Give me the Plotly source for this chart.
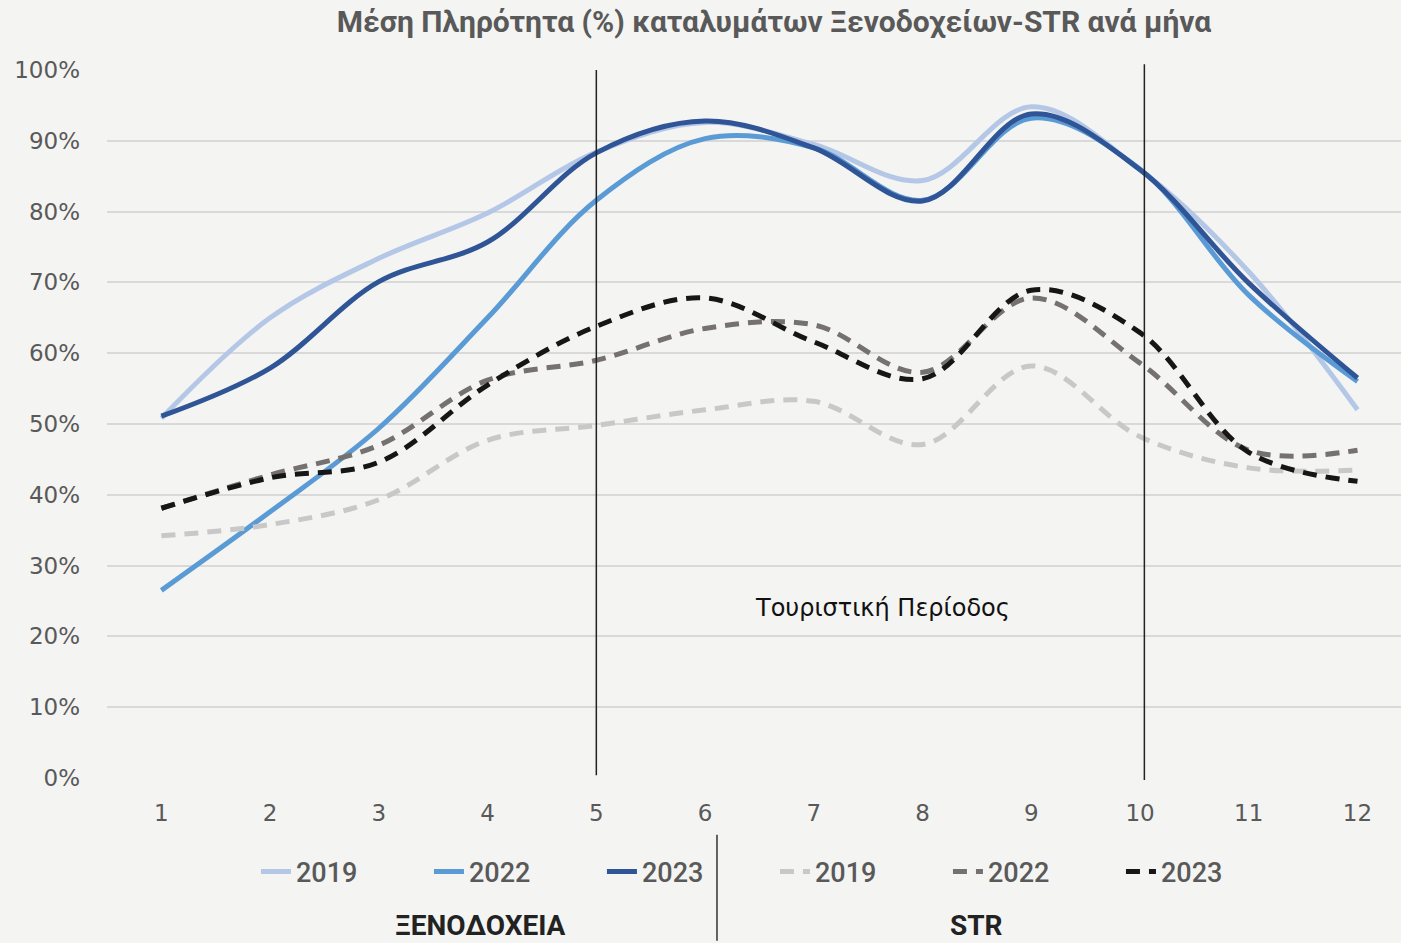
import plotly.graph_objects as go

months = [1, 2, 3, 4, 5, 6, 7, 8, 9, 10, 11, 12]
month_labels = [str(m) for m in months]

hotels_2019 = [50.8, 65.0, 73.4, 79.8, 88.4, 92.6, 89.5, 84.4, 94.8, 85.9, 71.5, 52.0]
hotels_2022 = [26.5, 37.6, 49.4, 65.0, 81.6, 90.3, 89.0, 81.6, 93.2, 86.0, 68.2, 56.0]
hotels_2023 = [51.1, 57.9, 70.1, 75.7, 88.3, 92.8, 89.0, 81.5, 93.8, 85.9, 69.9, 56.5]

str_2019 = [34.2, 35.8, 39.3, 47.7, 49.8, 52.0, 53.2, 47.1, 58.2, 48.2, 43.8, 43.5]
str_2022 = [38.1, 42.8, 47.0, 56.2, 59.0, 63.5, 64.0, 57.3, 67.8, 58.6, 46.3, 46.3]
str_2023 = [38.1, 42.4, 44.6, 55.5, 63.8, 67.8, 61.6, 56.4, 68.9, 62.9, 46.0, 41.9]

series = [
    ("2019", hotels_2019, "#b4c7e7", "solid"),
    ("2022", hotels_2022, "#5b9bd5", "solid"),
    ("2023", hotels_2023, "#2f5597", "solid"),
    ("2019", str_2019, "#c8c8c8", "14px,9px"),
    ("2022", str_2022, "#767171", "14px,9px"),
    ("2023", str_2023, "#161616", "14px,9px"),
]

fig = go.Figure()
for name, vals, color, dash in series:
    fig.add_trace(go.Scatter(
        x=months, y=vals, name=name, mode="lines",
        line=dict(color=color, width=5, dash=dash, shape="spline", smoothing=1.0),
    ))

bg = "#f4f4f2"
txt = "#595959"

fig.update_layout(
    width=1401, height=943,
    paper_bgcolor=bg, plot_bgcolor=bg,
    margin=dict(l=107, r=0, t=70, b=165),
    title=dict(
        text="<b>Μέση Πληρότητα (%) καταλυμάτων Ξενοδοχείων-STR ανά μήνα</b>",
        x=0.5525, xref="container", xanchor="center",
        y=0.977, yref="container", yanchor="middle",
        font=dict(family="Roboto, sans-serif", size=30, color=txt),
    ),
    xaxis=dict(
        range=[0.5, 12.4], tickmode="array", tickvals=months, ticktext=month_labels,
        showgrid=False, zeroline=False, showline=False, ticks="",
        tickfont=dict(family="DejaVu Sans, sans-serif", size=23, color=txt),
        ticklabelstandoff=19,
    ),
    yaxis=dict(
        range=[0, 100], dtick=10, ticksuffix="%",
        showgrid=True, gridcolor="#d9d9d9", gridwidth=2, zeroline=False, showline=False,
        tickfont=dict(family="DejaVu Sans, sans-serif", size=23, color=txt),
        ticklabelstandoff=26,
    ),
    legend=dict(
        orientation="h", xref="container", x=0.1827, xanchor="left",
        yref="container", y=0.0753, yanchor="middle",
        bgcolor="rgba(0,0,0,0)", entrywidth=128, entrywidthmode="pixels",
        font=dict(family="Roboto, sans-serif", size=27, color=txt, weight=500),
        tracegroupgap=0,
    ),
    showlegend=True,
)

# tourist season boundaries
fig.add_shape(type="line", xref="x", yref="paper", x0=5, x1=5, y0=0.004, y1=1.0,
              line=dict(color="#222222", width=1.5))
fig.add_shape(type="line", xref="x", yref="paper", x0=10.04, x1=10.04, y0=-0.003, y1=1.008,
              line=dict(color="#222222", width=1.5))

fig.add_annotation(x=7.63, y=24, xref="x", yref="y", text="Τουριστική Περίοδος",
                   showarrow=False, xanchor="center",
                   font=dict(family="DejaVu Sans, sans-serif", size=24, color="#111111"))

# legend group separators and labels
fig.add_shape(type="line", xref="paper", yref="paper", x0=0.4714, x1=0.4714, y0=-0.08, y1=-0.23,
              line=dict(color="#333333", width=1.5))
fig.add_annotation(x=0.2883, y=-0.208, xref="paper", yref="paper", text="<b>ΞΕΝΟΔΟΧΕΙΑ</b>",
                   showarrow=False, xanchor="center", yanchor="middle",
                   font=dict(family="Roboto, sans-serif", size=28, color="#222222"))
fig.add_annotation(x=0.6723, y=-0.208, xref="paper", yref="paper", text="<b>STR</b>",
                   showarrow=False, xanchor="center", yanchor="middle",
                   font=dict(family="Roboto, sans-serif", size=28, color="#222222"))

fig.write_html("out.html", config={"displayModeBar": False},
               post_script="document.body.style.margin='0';document.body.style.background='#f4f4f2';")
